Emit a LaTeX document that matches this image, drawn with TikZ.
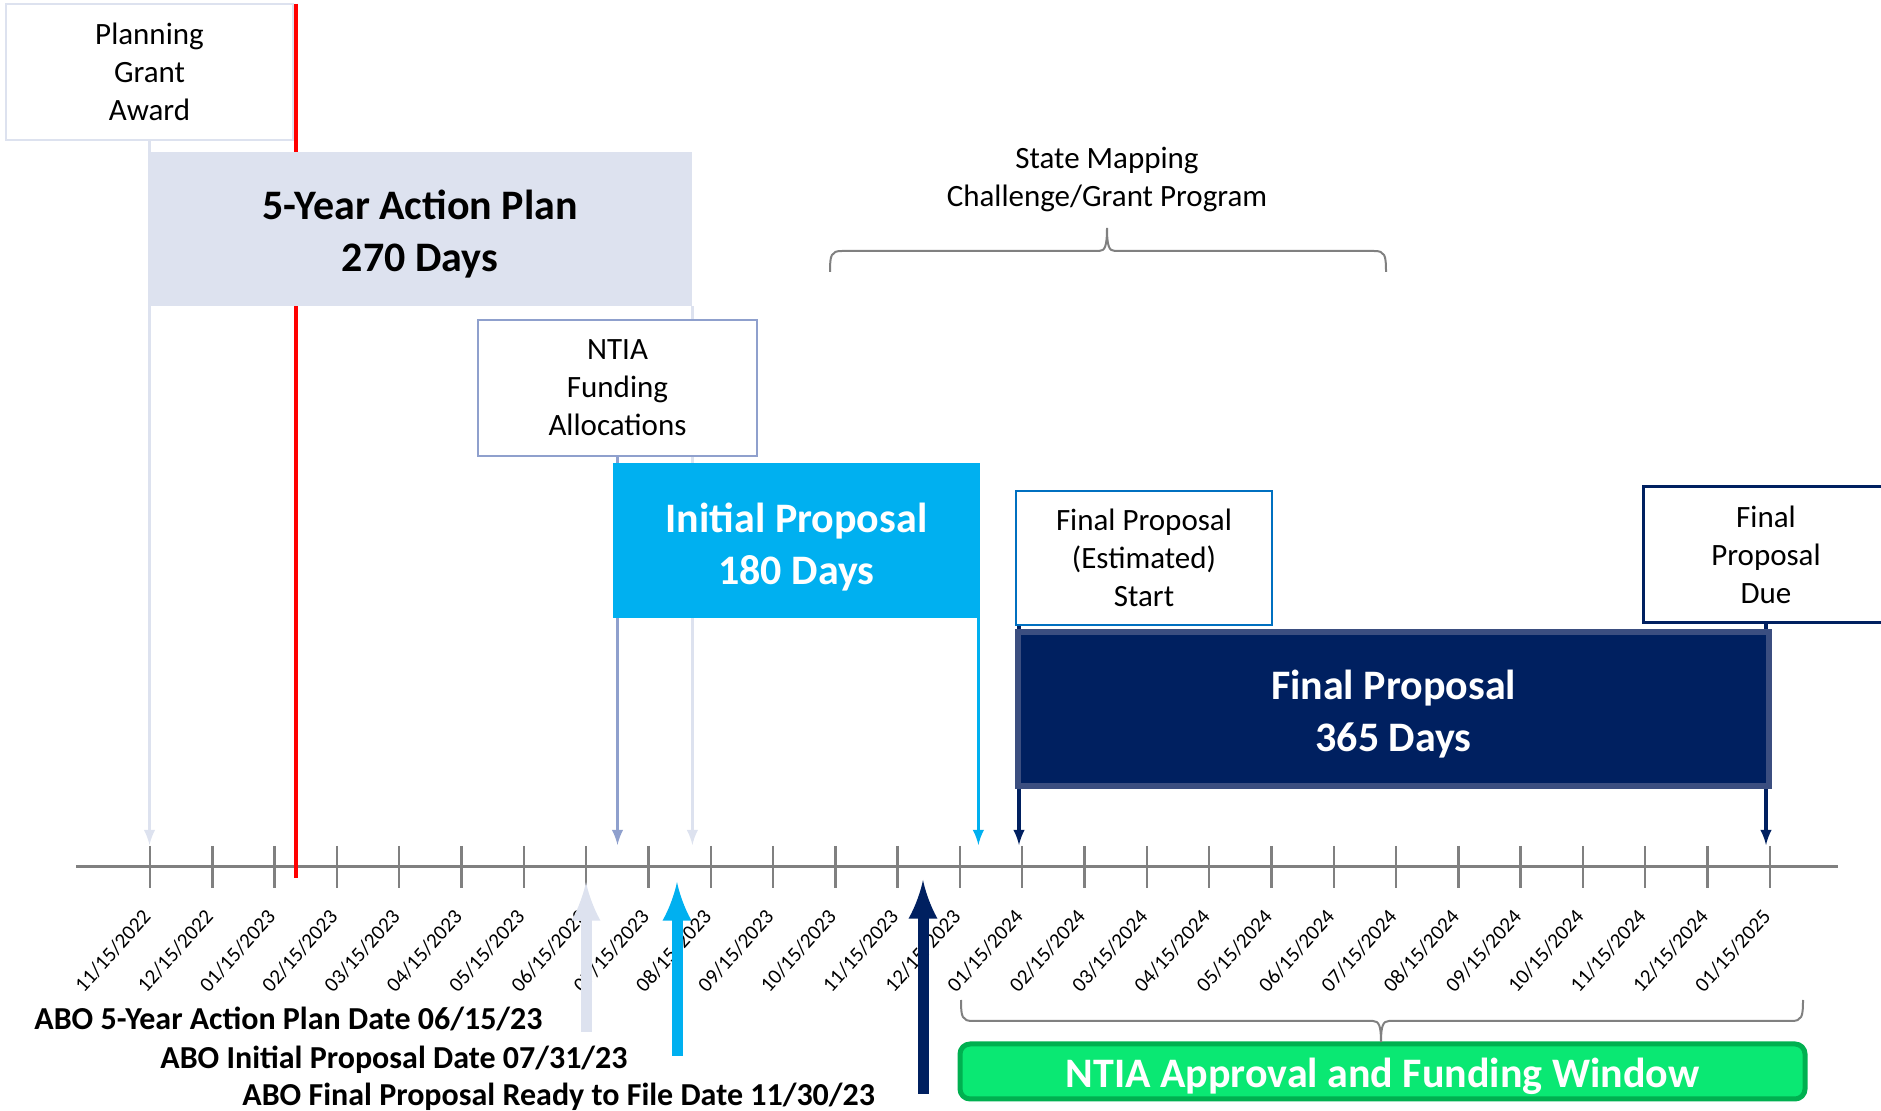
\documentclass[tikz,border=0pt]{standalone}
\usepackage{fontspec}
\setmainfont{Carlito}
\usetikzlibrary{arrows}

\definecolor{lav}{RGB}{221,226,239}
\definecolor{ntiaedge}{RGB}{143,160,205}
\definecolor{cyanbox}{RGB}{0,176,240}
\definecolor{navy}{RGB}{0,32,96}
\definecolor{navyedge}{RGB}{59,78,128}
\definecolor{startedge}{RGB}{0,112,192}
\definecolor{greenbox}{RGB}{10,232,115}
\definecolor{greenedge}{RGB}{0,176,80}
\definecolor{axisgray}{RGB}{128,128,128}

\pgfdeclarelayer{bg}
\pgfsetlayers{bg,main}

\begin{document}
\begin{tikzpicture}[x=0.5pt,y=-0.5pt,
	labelbox/.style={draw,line width=1pt,fill=white,align=center,inner sep=0pt,font=\fontsize{15.5}{19}\selectfont},
	phasebox/.style={align=center,inner sep=0pt,font=\bfseries\fontsize{21}{26}\selectfont},
	drop/.style={-latex,line width=1.6pt},
	rise/.style={-latex,line width=5.5pt},
	curly/.style={draw=axisgray,line width=1pt},
	datelabel/.style={anchor=east,rotate=48,inner sep=0pt,font=\fontsize{10.5}{12}\selectfont},
	abotext/.style={anchor=west,inner sep=0pt,font=\bfseries\fontsize{16}{19}\selectfont}]
				\useasboundingbox (0,0) rectangle (1881,1111);

				\node[labelbox,draw=lav,minimum width=143.5pt,minimum height=68pt] (plan) at (149.5,72) {Planning\\Grant\\Award};
				\node[phasebox,fill=lav,minimum width=272pt,minimum height=77pt] (action) at (420,229) {\rule{0pt}{20pt}5-Year Action Plan\\270 Days};
				\node[labelbox,draw=ntiaedge,minimum width=139.5pt,minimum height=68pt] (ntia) at (617.5,388) {NTIA\\Funding\\Allocations};
				\node[phasebox,fill=cyanbox,text=white,minimum width=183.5pt,minimum height=77.5pt] (initial) at (796.5,540.5) {\rule{0pt}{21pt}Initial Proposal\\180 Days};
				\node[labelbox,draw=startedge,minimum width=128pt,minimum height=67pt] (start) at (1144,558) {Final Proposal\\(Estimated)\\Start};
				\node[labelbox,draw=navy,line width=1.5pt,minimum width=123pt,minimum height=68pt] (due) at (1766,555) {Final\\Proposal\\Due};
				\node[phasebox,fill=navy,draw=navyedge,line width=3pt,text=white,minimum width=375.5pt,minimum height=77pt] (final) at (1393.5,709) {\rule{0pt}{20pt}Final Proposal\\365 Days};
				\node[align=center,inner sep=0pt,font=\fontsize{15.5}{19}\selectfont] (mapping) at (1107,180) {State Mapping\\Challenge/Grant Program};
				\node[phasebox,fill=greenbox,draw=greenedge,line width=2.5pt,rounded corners=5pt,text=white,minimum width=422.5pt,minimum height=27.5pt] (window) at (1382.5,1071.5) {\rule{0pt}{20pt}NTIA Approval and Funding Window};

				\coordinate (tipline) at (0,845);
				\begin{pgfonlayer}{bg}
				\draw[axisgray,line width=1.5pt] (76,867) -- (1838,867);
				\foreach \i in {0,...,26}
				\draw[axisgray,line width=1.2pt] ({150+62.3*\i},846) -- ({150+62.3*\i},888);
				\draw[red,line width=2pt] (296,4) -- (296,878);
				\draw[drop,lav] (plan.south) -- (plan.south |- tipline);
				\draw[drop,lav] (action.south east) -- (action.south east |- tipline);
				\draw[drop,ntiaedge] (ntia.south) -- (ntia.south |- tipline);
				\draw[drop,cyanbox] ([xshift=-1pt]initial.south east) -- ([xshift=-1pt]initial.south east |- tipline);
				\draw[drop,navy] ([xshift=2pt]start.south west) -- ([xshift=2pt]start.south west |- tipline);
				\draw[drop,navy] (due.south) -- (due.south |- tipline);
				\end{pgfonlayer}

				\foreach \d [count=\i from 0] in {11/15/2022,12/15/2022,01/15/2023,02/15/2023,03/15/2023,04/15/2023,05/15/2023,06/15/2023,07/15/2023,08/15/2023,09/15/2023,10/15/2023,11/15/2023,12/15/2023,01/15/2024,02/15/2024,03/15/2024,04/15/2024,05/15/2024,06/15/2024,07/15/2024,08/15/2024,09/15/2024,10/15/2024,11/15/2024,12/15/2024,01/15/2025}
				\node[datelabel] at ({147+62.3*\i},913) {\d};

				% braces
				\draw[curly] (830,272) .. controls (830,255) and (831,251) .. (842,251) -- (1099,251)
					.. controls (1105,251) and (1107,246) .. (1107,228) .. controls (1107,246) and (1109,251) .. (1115,251)
					-- (1374,251) .. controls (1385,251) and (1386,255) .. (1386,272);
				\draw[curly] (961,1000) .. controls (961,1017) and (962,1021) .. (973,1021) -- (1373,1021)
					.. controls (1379,1021) and (1381,1026) .. (1381,1042) .. controls (1381,1026) and (1383,1021) .. (1389,1021)
					-- (1791,1021) .. controls (1802,1021) and (1803,1017) .. (1803,1000);

				\node[abotext] (abo1) at (34,1019) {ABO 5-Year Action Plan Date 06/15/23};
				\node[abotext] (abo2) at (160,1060) {ABO Initial Proposal Date 07/31/23};
				\node[abotext] (abo3) at (242,1097) {ABO Final Proposal Ready to File Date 11/30/23};

				\coordinate (up1) at (586,1032);
				\coordinate (up2) at (677,1056);
				\coordinate (up3) at (923,1094);
				\draw[rise,lav] (up1) -- ++(0,-150);
				\draw[rise,cyanbox] (up2) -- ++(0,-174);
				\draw[rise,navy] (up3) -- ++(0,-214);
\end{tikzpicture}
\end{document}
